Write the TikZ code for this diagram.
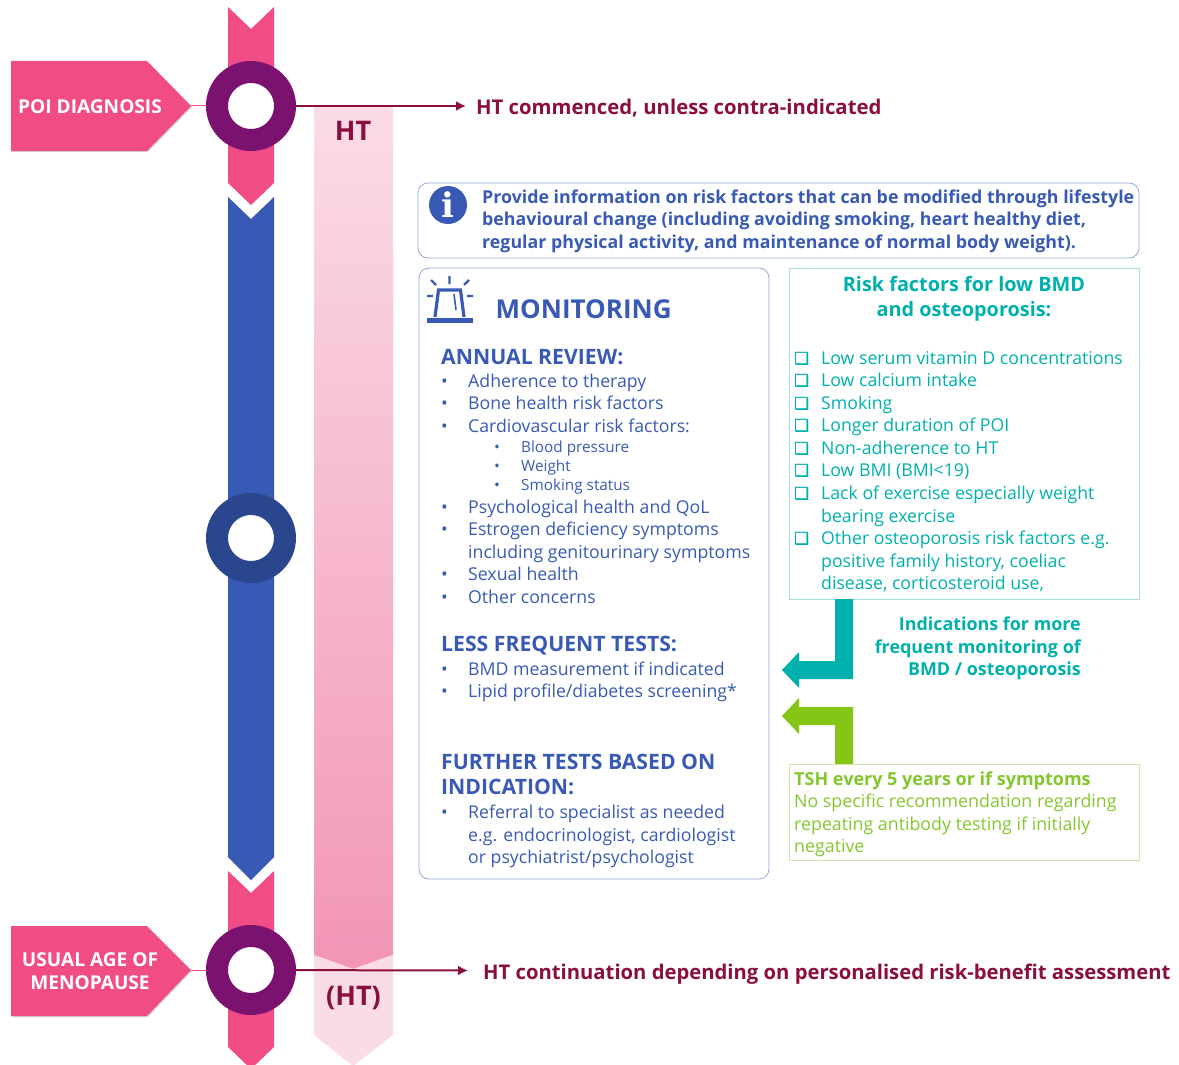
\documentclass[tikz,border=0pt]{standalone}
\usepackage{fontspec}
\setmainfont{Open Sans}
\newfontfamily\symfont[FakeBold=1.6]{DejaVu Sans}
\newfontfamily\slabfont{DejaVu Serif}
\usetikzlibrary{shadows,arrows.meta}
\definecolor{pinkbar}{HTML}{F14C85}
\definecolor{bluebar}{HTML}{385AB4}
\definecolor{ringpur}{HTML}{7B1270}
\definecolor{ringblu}{HTML}{2A468F}
\definecolor{wine}{HTML}{8A0F40}
\definecolor{bandtop}{HTML}{FADCE6}
\definecolor{bandbot}{HTML}{F295B7}
\definecolor{tealfill}{HTML}{00B0AD}
\definecolor{tealline}{HTML}{A5E0DE}
\definecolor{limefill}{HTML}{84C516}
\definecolor{limeline}{HTML}{CDE5A8}
\definecolor{limetxt}{HTML}{84C62E}
\definecolor{boxline}{HTML}{93A8D8}
\tikzset{
	ring/.style={circle,draw=ringpur,line width=22pt,fill=white,minimum size=68pt,inner sep=0pt},
	tagshape/.style={fill=pinkbar,drop shadow={shadow xshift=.8pt,shadow yshift=-1.2pt,opacity=.35}},
	taglab/.style={align=center,text=white,font=\fontsize{19.1}{23}\selectfont\bfseries,inner sep=0pt},
	bandlab/.style={text=wine,font=\fontsize{27}{30}\selectfont\bfseries,inner sep=0pt},
	redlab/.style={anchor=base west,text=wine,font=\fontsize{20.3}{24}\selectfont\bfseries,inner sep=0pt},
	bluetxt/.style={anchor=base west,text=bluebar,font=\fontsize{17.7}{22}\selectfont,inner sep=0pt},
	subtxt/.style={bluetxt,font=\fontsize{15.3}{18}\selectfont},
	bluehead/.style={bluetxt,font=\fontsize{21.2}{25}\selectfont\bfseries},
	infotxt/.style={bluetxt,font=\fontsize{17.8}{22}\selectfont\bfseries},
	tealtxt/.style={anchor=base west,text=tealfill,font=\fontsize{17.7}{22}\selectfont,inner sep=0pt},
	tealhead/.style={anchor=base,text=tealfill,font=\fontsize{19.85}{25}\selectfont\bfseries,inner sep=0pt},
	indlab/.style={anchor=base east,text=tealfill,font=\fontsize{17.9}{22}\selectfont\bfseries,inner sep=0pt},
	limetx/.style={anchor=base west,text=limetxt,font=\fontsize{17.8}{22}\selectfont,inner sep=0pt},
	panel/.style={draw=boxline,line width=.8pt,rounded corners=10pt},
}
\begin{document}
\begin{tikzpicture}[x=1pt,y=-1pt]
	\useasboundingbox (0,0) rectangle (1179,1065);
	% spine
	\fill[pinkbar] (228,7) -- (251,29) -- (274,7) -- (274,183) -- (251,205) -- (228,183) -- cycle;
	\fill[bluebar] (228,197) -- (251,219) -- (274,197) -- (274,857) -- (251,880) -- (228,857) -- cycle;
	\fill[pinkbar] (228,871) -- (251,893) -- (274,871) -- (274,1047) -- (251,1069) -- (228,1047) -- cycle;
	% HT band
	\shade[top color=bandtop,bottom color=bandbot] (314,107) -- (393,107) -- (393,955) -- (353,969) -- (314,955) -- cycle;
	\fill[bandtop] (314,955) -- (353,969) -- (393,955) -- (393,1035) -- (353,1066) -- (314,1035) -- cycle;
	\node (ht) at (353,131) [bandlab] {HT};
	\node (htb) at (353.5,998) [bandlab] {(HT)};
	% tags
	\path[tagshape] (11,61) -- (147,61) -- (191,106) -- (147,151) -- (11,151) -- cycle;
	\path[tagshape] (11,926) -- (147,926) -- (191,970) -- (147,1016) -- (11,1016) -- cycle;
	\node (poilab) at (90,107) [taglab] {POI DIAGNOSIS};
	\node (agelab) at (90,971) [taglab] {USUAL AGE OF\\MENOPAUSE};
	\coordinate (poitip) at (191,106);
	\coordinate (agetip) at (191,970);
	\node (poi) at (251,106) [ring] {};
	\node (mid) at (251,538) [ring,draw=ringblu] {};
	\node (age) at (251,970) [ring] {};
	\draw[pinkbar,line width=1pt] (poitip) -- (poi);
	\draw[pinkbar,line width=1pt] (agetip) -- (age);
	\node (comm) at (476,114) [redlab] {HT commenced, unless contra-indicated};
	\node (cont) at (483,979) [redlab,font=\fontsize{20.25}{24}\selectfont\bfseries] {HT continuation depending on personalised risk-benefit assessment};
	\coordinate (commend) at (466,106);
	\coordinate (contend) at (468,970.5);
	\draw[wine,line width=2pt,-{Latex[length=10pt,width=10pt]}] (poi) -- (commend);
	\draw[wine,line width=2pt,-{Latex[length=10pt,width=10pt]}] (age) -- (contend);
	% information box
	\draw[panel] (418,183) rectangle (1139,258);
	\node (infoicon) at (448,205) [circle,fill=bluebar,minimum size=38pt,inner sep=0pt,text=white,font=\fontsize{34}{34}\slabfont\bfseries] {i};
	\node (info1) at (482,203) [infotxt] {Provide information on risk factors that can be modified through lifestyle};
	\node (info2) at (482,225.5) [infotxt] {behavioural change (including avoiding smoking, heart healthy diet,};
	\node (info3) at (482,248) [infotxt] {regular physical activity, and maintenance of normal body weight).};
	% monitoring box
	\draw[panel] (419,268) rectangle (769,879);
	\fill[bluebar] (427,317.5) rectangle (473,322.5);
	\draw[bluebar,line width=3.2pt] (435,317) -- (438.5,290) -- (460.5,290) -- (464,317);
	\draw[bluebar,line width=1.6pt] (454,294) -- (456,310);
	\draw[bluebar,line width=2.2pt] (431,280) -- (436,285) (449.5,276) -- (449.5,284) (469,280) -- (464,285) (427,296) -- (433,296) (467,296) -- (473,296);
	\node (montitle) at (495.5,318.5) [bluetxt,font=\fontsize{26}{30}\selectfont\bfseries] {MONITORING};
	\node (annual) at (441,364.5) [bluehead] {ANNUAL REVIEW:};
	\node (less) at (441,651) [bluehead] {LESS FREQUENT TESTS:};
	\node (furth1) at (441,769.5) [bluehead] {FURTHER TESTS BASED ON};
	\node (furth2) at (441,794.5) [bluehead] {INDICATION:};
	\foreach \n/\y/\t in {a/387/Adherence to therapy,b/409.5/Bone health risk factors,c/432/Cardiovascular risk factors:,d/513/Psychological health and QoL,e/535.5/Estrogen deficiency symptoms,g/580.5/Sexual health,h/603/Other concerns,i/675/BMD measurement if indicated,j/697/{Lipid profile/diabetes screening*},k/818.5/Referral to specialist as needed}
		{\node (bul\n) at (441,\y) [bluetxt] {\textbullet};
		\node (mon\n) at (468,\y) [bluetxt] {\t};}
	\node (monf) at (468,558) [bluetxt] {including genitourinary symptoms};
	\node (monl) at (468,841) [bluetxt] {e.g. endocrinologist, cardiologist};
	\node (monm) at (468,863) [bluetxt] {or psychiatrist/psychologist};
	\foreach \n/\y/\t in {a/452/Blood pressure,b/471/Weight,c/490/Smoking status}
		{\node (sbul\n) at (494,\y) [subtxt] {\textbullet};
		\node (sub\n) at (521,\y) [subtxt] {\t};}
	% risk factors box
	\draw[tealline,line width=.8pt] (789,268) rectangle (1139,599);
	\node (risk1) at (964,291) [tealhead] {Risk factors for low BMD};
	\node (risk2) at (964,316) [tealhead] {and osteoporosis:};
	\foreach \n/\y/\t in {a/364/Low serum vitamin D concentrations,b/386/Low calcium intake,c/409/Smoking,d/431/Longer duration of POI,e/454/Non-adherence to HT,f/476/Low BMI (BMI<19),g/499/Lack of exercise especially weight,j/544/Other osteoporosis risk factors e.g.}
		{\node (box\n) at (794,\y) [tealtxt,font=\fontsize{16.5}{18}\symfont] {❑};
		\node (rf\n) at (821,\y) [tealtxt] {\t};}
	\node (rfh) at (821,522) [tealtxt] {bearing exercise};
	\node (rfk) at (821,567) [tealtxt] {positive family history, coeliac};
	\node (rfl) at (821,589) [tealtxt] {disease, corticosteroid use,};
	% indication arrows
	\fill[tealfill] (835,599) -- (853,599) -- (853,679) -- (799,679) -- (799,688) -- (782,670) -- (799,652) -- (799,661) -- (835,661) -- cycle;
	\fill[limefill] (835,764) -- (853,764) -- (853,707) -- (799,707) -- (799,698) -- (782,716) -- (799,734) -- (799,725) -- (835,725) -- cycle;
	\node (ind1) at (1081,630.5) [indlab] {Indications for more};
	\node (ind2) at (1081,653) [indlab] {frequent monitoring of};
	\node (ind3) at (1081,675.5) [indlab] {BMD / osteoporosis};
	% thyroid box
	\draw[limeline,line width=1pt] (789,764) rectangle (1139,860);
	\node (tsh1) at (794,785) [limetx,font=\fontsize{18}{22}\selectfont\bfseries] {TSH every 5 years or if symptoms};
	\node (tsh2) at (794,807) [limetx] {No specific recommendation regarding};
	\node (tsh3) at (794,830) [limetx] {repeating antibody testing if initially};
	\node (tsh4) at (794,852) [limetx] {negative};
\end{tikzpicture}
\end{document}
